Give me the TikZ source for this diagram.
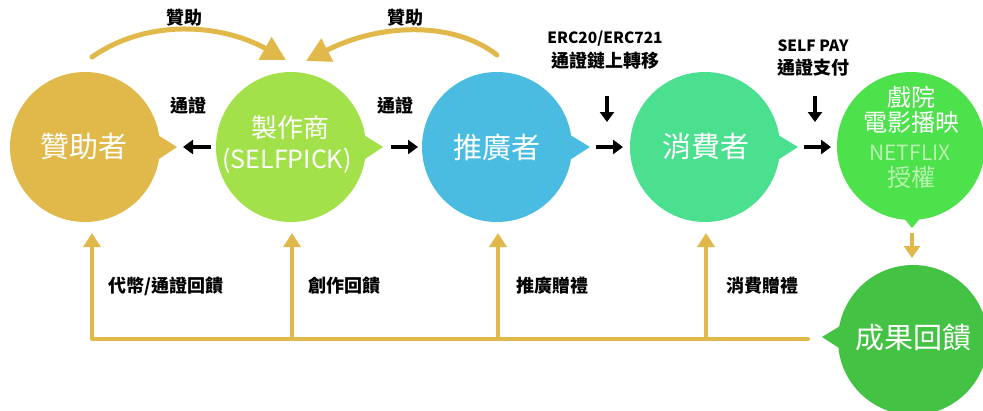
\documentclass[tikz,border=0pt]{standalone}
\usepackage{fontspec}
\setmainfont{Noto Sans CJK TC}
\usetikzlibrary{arrows.meta}
\definecolor{gold}{HTML}{E1B84A}
\definecolor{lgreen}{HTML}{A3E14B}
\definecolor{sky}{HTML}{4ABCE1}
\definecolor{teal}{HTML}{4BE08F}
\definecolor{vgreen}{HTML}{4DE14B}
\definecolor{dgreen}{HTML}{44C244}
\definecolor{pale}{HTML}{B8F5B0}
\tikzset{
  bubble/.style={circle,minimum size=150pt,inner sep=0pt},
  bigtxt/.style={text=white,font=\fontsize{29}{31}\selectfont},
  small/.style={font=\fontsize{18}{20}\selectfont\bfseries,text=black,inner sep=0pt},
  latin/.style={font=\fontsize{15.5}{17}\selectfont\bfseries,text=black,inner sep=0pt},
  blk/.style={line width=3.4pt,-{Triangle[length=10pt,width=14pt]}},
  goldup/.style={draw=gold,line width=4pt,-{Triangle[length=14pt,width=17pt]}},
  goldarc/.style={draw=gold,line width=5pt,line cap=round,-{Triangle[length=24pt,width=25pt]}},
}
\begin{document}
\begin{tikzpicture}[x=1pt,y=-1pt]
\useasboundingbox (0,0) rectangle (983,410);
% bubbles
\node[bubble,fill=gold] (s) at (85,147) {};
\fill[gold] (150,130) -- (177,147) -- (150,165) -- cycle;
\node[bubble,fill=lgreen] (p) at (291,147) {};
\fill[lgreen] (356,130) -- (383,147) -- (356,165) -- cycle;
\node[bubble,fill=sky] (m) at (497,147) {};
\fill[sky] (562,130) -- (590,147) -- (562,165) -- cycle;
\node[bubble,fill=teal] (c) at (705,147) {};
\fill[teal] (770,130) -- (798,147) -- (770,165) -- cycle;
\node[bubble,fill=vgreen,minimum size=148pt] (t) at (911,146) {};
\fill[vgreen] (893,205) -- (912,228) -- (931,205) -- cycle;
\node[bubble,fill=dgreen] (r) at (913,340) {};
\fill[dgreen] (850,320) -- (822,337) -- (850,355) -- cycle;
% texts in bubbles
\node[bigtxt] at (84,147) {贊助者};
\node[text=white,font=\fontsize{26}{28}\selectfont] (p1) at (290,128) {製作商};
\node[text=white,font=\fontsize{25}{27}\selectfont] (p2) at (287,161) {(SELFPICK)};
\node[bigtxt] at (497,147) {推廣者};
\node[bigtxt] at (706,147) {消費者};
\node[text=white,font=\fontsize{24}{26}\selectfont] (t1) at (911,97) {戲院};
\node[text=white,font=\fontsize{24}{26}\selectfont] (t2) at (911,122) {電影播映};
\node[text=pale,font=\fontsize{21}{23}\selectfont] (t3) at (910,153) {NETFLIX};
\node[text=pale,font=\fontsize{24}{26}\selectfont] (t4) at (911,177) {授權};
\node[bigtxt] at (913,337) {成果回饋};
% top arcs
\coordinate (a1s) at (92,57);
\coordinate (a1e) at (286,60);
\coordinate (a2s) at (497,55);
\coordinate (a2e) at (306,61);
\draw[goldarc] (a1s) .. controls (148,18) and (222,24) .. (a1e);
\draw[goldarc] (a2s) .. controls (452,20) and (378,24) .. (a2e);
\node[small] (l1) at (184,18) {贊助};
\node[small] (l2) at (405,18) {贊助};
% black arrows
\coordinate (b1s) at (211,147); \coordinate (b1e) at (183,147);
\draw[blk] (b1s) -- (b1e);
\coordinate (b2s) at (391,147); \coordinate (b2e) at (418,147);
\draw[blk] (b2s) -- (b2e);
\coordinate (b3s) at (596,147); \coordinate (b3e) at (623,147);
\draw[blk] (b3s) -- (b3e);
\coordinate (b4s) at (804,147); \coordinate (b4e) at (831,147);
\draw[blk] (b4s) -- (b4e);
\coordinate (d1s) at (607,96); \coordinate (d1e) at (607,122);
\draw[blk] (d1s) -- (d1e);
\coordinate (d2s) at (815,96); \coordinate (d2e) at (815,122);
\draw[blk] (d2s) -- (d2e);
\node[small] (n1) at (188,106) {通證};
\node[small] (n2) at (395,106) {通證};
\node[latin] (e1) at (605,39) {ERC20/ERC721};
\node[small] (e2) at (605,61) {通證鏈上轉移};
\node[latin] (f1) at (813,46) {SELF PAY};
\node[small] (f2) at (813,68) {通證支付};
% gold down arrow
\coordinate (g1s) at (912,233); \coordinate (g1e) at (912,258);
\draw[draw=gold,line width=4pt,-{Triangle[length=12pt,width=16pt]}] (g1s) -- (g1e);
% bottom feedback
\coordinate (h0) at (92,339);
\coordinate (h1) at (292,339);
\coordinate (h2) at (498,339);
\coordinate (h3) at (706,339);
\coordinate (h4) at (808,339);
\draw[draw=gold,line width=4pt,line cap=round] (h0) -- (h4);
\draw[goldup] (h0) -- (92,233);
\draw[goldup] (h1) -- (292,233);
\draw[goldup] (h2) -- (498,233);
\draw[goldup] (h3) -- (706,233);
\node[small,anchor=west] (q1) at (108,286) {代幣/通證回饋};
\node[small,anchor=west] (q2) at (308,286) {創作回饋};
\node[small,anchor=west] (q3) at (516,286) {推廣贈禮};
\node[small,anchor=west] (q4) at (726,286) {消費贈禮};
\end{tikzpicture}
\end{document}
